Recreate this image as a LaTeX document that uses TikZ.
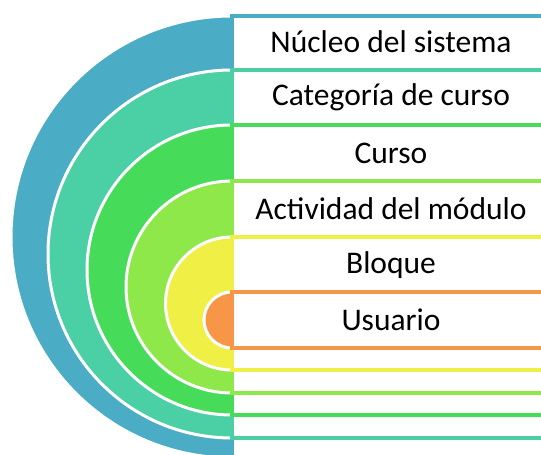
\documentclass[tikz,border=0pt]{standalone}
\usepackage{fontspec}
\setmainfont{Carlito}
\usepackage{xcolor}
\definecolor{ctx-blue}{RGB}{75,172,198}
\definecolor{ctx-teal}{RGB}{75,207,165}
\definecolor{ctx-green}{RGB}{71,219,90}
\definecolor{ctx-lime}{RGB}{142,232,74}
\definecolor{ctx-yellow}{RGB}{239,239,69}
\definecolor{ctx-orange}{RGB}{247,150,70}

\begin{document}
\begin{tikzpicture}[x=1pt, y=1pt,
            lbl/.style={font=\fontsize{31.5}{37}\selectfont, anchor=center},
            frame/.style={line width=3.2pt}]
          \useasboundingbox (0,0) rectangle (541,455);
          \clip (0,0) rectangle (541,455);
          % nested half discs with their frames, outer to inner
          \foreach \col/\cy/\r in {ctx-blue/218/221, ctx-teal/201/184,
                ctx-green/185/145, ctx-lime/168/106,
                ctx-yellow/151.5/66.5, ctx-orange/135/28}
          {
            \fill[\col] (232,\cy+\r) arc[start angle=90, end angle=270,
                radius=\r] -- cycle;
            \draw[white, line width=3pt] (232,\cy+\r)
                arc[start angle=90, end angle=270, radius=\r];
            \draw[frame, draw=\col, fill=white] (232,\cy+\r)
                rectangle (560,\cy-\r);
          }
          \node[lbl] (core)     at (391,413)   {Núcleo del sistema};
          \node[lbl] (category) at (391,357.5) {Categoría de curso};
          \node[lbl] (course)   at (391,302)   {Curso};
          \node[lbl] (activity) at (391,246)   {Actividad del módulo};
          \node[lbl] (block)    at (391,190)   {Bloque};
          \node[lbl] (user)     at (391,135)   {Usuario};
        \end{tikzpicture}
\end{document}
